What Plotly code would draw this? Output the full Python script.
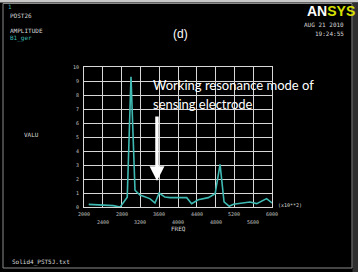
import plotly.graph_objects as go

# Data (frequency in Hz, amplitude)
freq = [2100, 2410, 2620, 2770, 2920, 3000, 3085, 3190, 3400, 3510, 3600, 3720, 3830,
        4185, 4290, 4430, 4645, 4790, 4895, 4980, 5090, 5180, 5530, 5675, 5885, 6000]
ampl = [0.19, 0.15, 0.1, 0.0, 0.7, 9.3, 1.2, 0.85, 0.6, 0.29, 1.0, 0.71, 0.67,
        0.67, 0.24, 0.52, 0.67, 0.95, 3.05, 0.36, 0.05, 0.2, 0.36, 0.24, 0.6, 0.29]

xticks_top = [2000, 2800, 3600, 4400, 5200, 6000]
xticks_bot = [2400, 3200, 4000, 4800, 5600]
yticks = list(range(0, 11))

W, H = 358, 272
L, R, T, B = 84, 272, 67, 207  # plot area pixels


def px(x):
    return (x - L) / (R - L)


def py(y):
    return (B - y) / (B - T)


fig = go.Figure()
fig.add_trace(go.Scatter(x=freq, y=ampl, mode="lines",
                         line=dict(color="#3fbab2", width=1.6), hoverinfo="skip"))

mono = "DejaVu Sans Mono"
ann = []
for v in xticks_top:
    ann.append(dict(x=v, y=py(214), xref="x", yref="paper", text=str(v), showarrow=False,
                    yanchor="middle", xanchor="center",
                    font=dict(family=mono, size=5, color="#c0c0c0")))
for v in xticks_bot:
    ann.append(dict(x=v, y=py(222), xref="x", yref="paper", text=str(v), showarrow=False,
                    yanchor="middle", xanchor="center",
                    font=dict(family=mono, size=5, color="#c0c0c0")))


def txt(x, y, s, size=6, color="#d8d8d8", fam=mono, xanchor="left"):
    ann.append(dict(x=px(x), y=py(y), xref="paper", yref="paper", text=s, showarrow=False,
                    xanchor=xanchor, yanchor="middle", font=dict(family=fam, size=size, color=color)))


txt(6, 6, "1", 6, "#3fbab2")
txt(8, 16, "POST26")
txt(8, 30, "AMPLITUDE")
txt(8, 38, "B1_ger", 6, "#3fbab2")
txt(346, 25, "AUG 21 2010", xanchor="right")
txt(346, 33, "19:24:55", xanchor="right")
txt(180, 34, "(d)", 12, "#ffffff", "Liberation Sans", "center")
txt(22, 134, "VALU")
txt(178, 228, "FREQ", 6, "#d8d8d8", mono, "center")
txt(276, 205, "(x10**2)", 5)
txt(10, 262, "Solid4_PST5J.txt")
txt(151, 85, "Working resonance mode of", 13, "#ffffff", "Lato")
txt(151, 104, "sensing electrode", 13, "#ffffff", "Lato")
ann.append(dict(x=px(305), y=py(11), xref="paper", yref="paper", showarrow=False,
                xanchor="left", yanchor="middle",
                text="<b><span style='color:#ffffff'>AN</span><span style='color:#d8e000'>SYS</span></b>",
                font=dict(family="Liberation Sans", size=14)))
# arrow
ann.append(dict(x=px(157), y=py(181), xref="paper", yref="paper", showarrow=True,
                ax=0, ay=-66, arrowhead=2, arrowsize=0.85, arrowwidth=3.5, arrowcolor="#ffffff", text=""))

shapes = [
    dict(type="rect", xref="paper", yref="paper", x0=px(0), x1=px(W), y0=py(0), y1=py(2.5),
         fillcolor="#c8c8c8", line=dict(width=0), layer="below"),
    dict(type="rect", xref="paper", yref="paper", x0=px(352.5), x1=px(W), y0=py(2.5), y1=py(H),
         fillcolor="#303030", line=dict(width=0), layer="below"),
    dict(type="rect", xref="paper", yref="paper", x0=px(3), x1=px(352), y0=py(3.5), y1=py(268),
         line=dict(color="#8a8a8a", width=1), layer="below"),
]

fig.update_layout(
    width=W, height=H,
    margin=dict(l=L, r=W - R, t=T, b=H - B, pad=0),
    paper_bgcolor="#000000", plot_bgcolor="#000000",
    showlegend=False,
    annotations=ann, shapes=shapes,
    xaxis=dict(range=[2000, 6000], dtick=400, tick0=2000, showticklabels=False, ticks="",
               showgrid=True, gridcolor="#d8d8d8", gridwidth=1, zeroline=False,
               showline=True, linecolor="#d8d8d8", linewidth=1, mirror=True, fixedrange=True),
    yaxis=dict(range=[0, 10], tickvals=yticks, showticklabels=True, ticks="",
               tickfont=dict(family=mono, size=5, color="#c0c0c0"), ticklabelstandoff=3,
               showgrid=True, gridcolor="#d8d8d8", gridwidth=1, zeroline=False,
               showline=True, linecolor="#d8d8d8", linewidth=1, mirror=True, fixedrange=True),
)

fig.write_html("out.html")
